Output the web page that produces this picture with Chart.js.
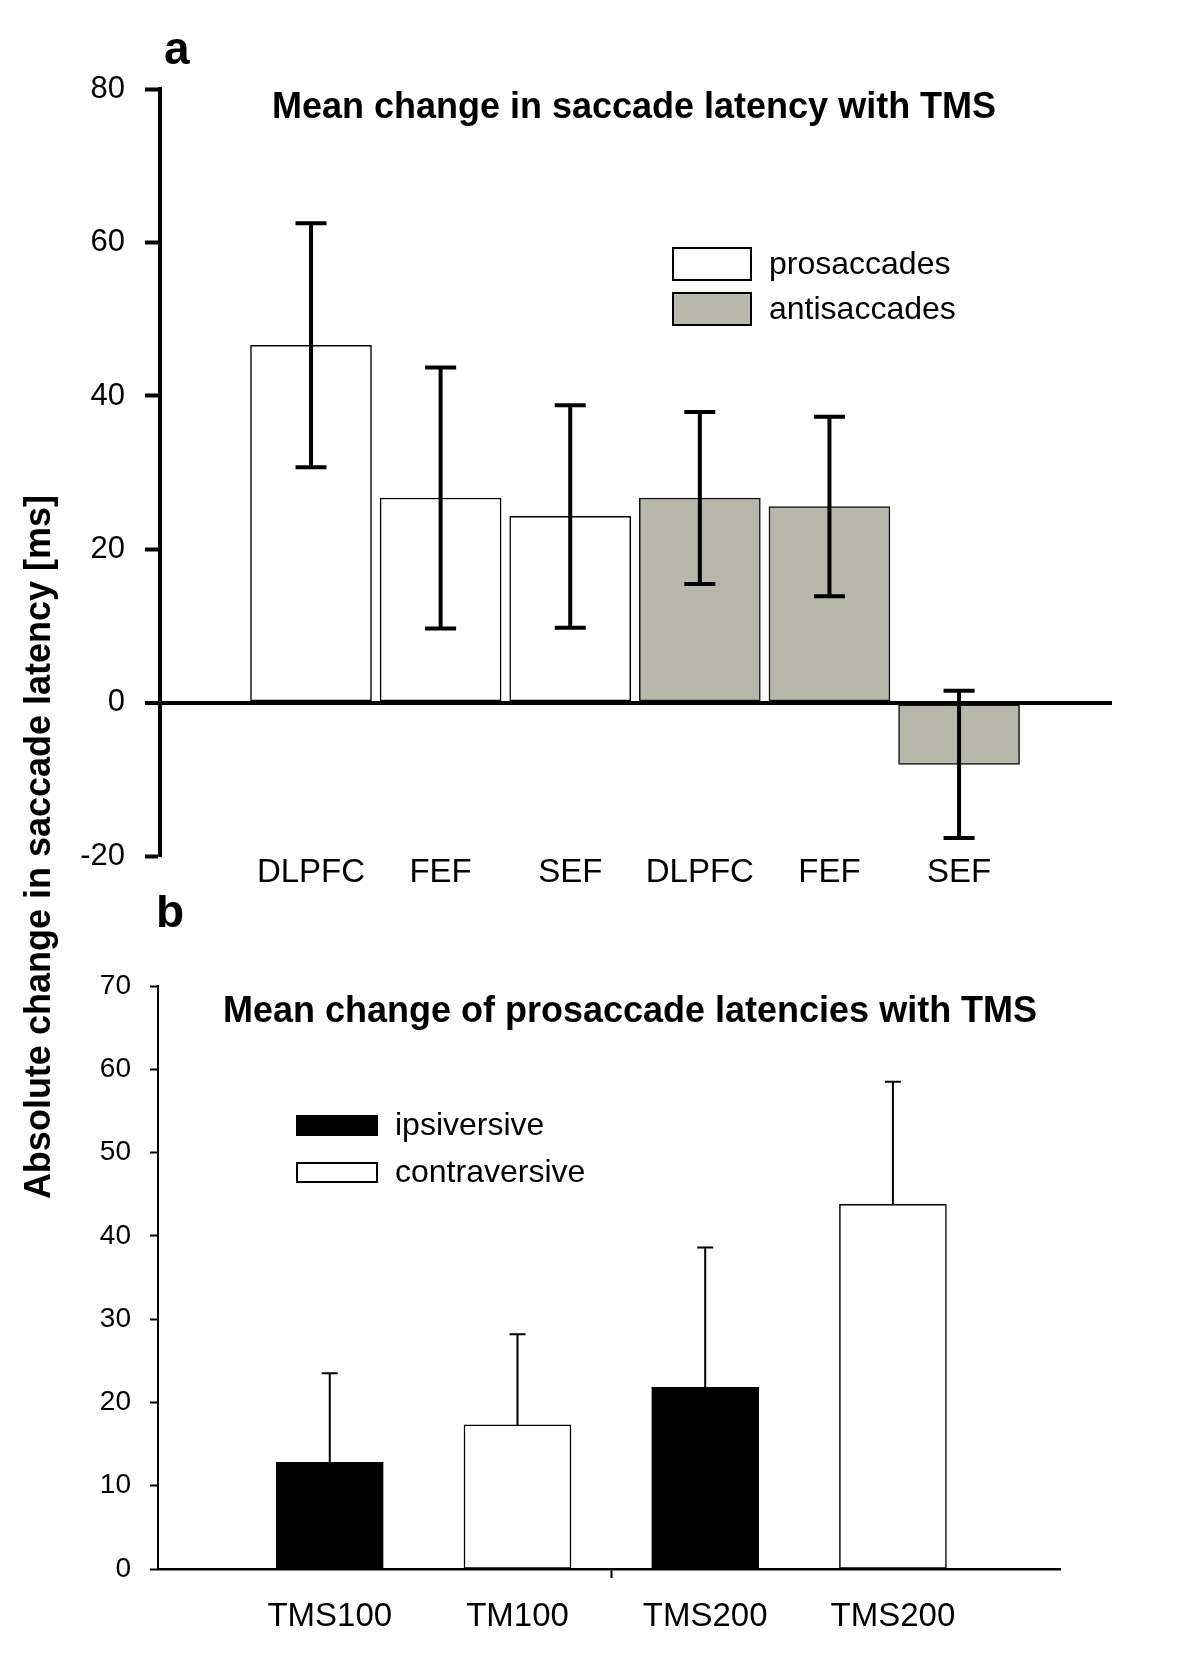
<!DOCTYPE html>
<html>
<head>
<meta charset="utf-8">
<script src="https://cdn.jsdelivr.net/npm/chart.js@4.4.0/dist/chart.umd.min.js"></script>
<style>
  body { margin: 0; background: #fff; width: 1200px; height: 1658px; position: relative; overflow: hidden; }
  #chartA { position: absolute; left: 0; top: 0; }
  #chartB { position: absolute; left: 0; top: 895px; }
  #ylab {
    position: absolute; left: -362px; top: 826px; width: 800px; height: 42px;
    line-height: 42px; text-align: center; transform: rotate(-90deg);
    font: bold 36px "Liberation Sans", Arial, sans-serif; color: #000; white-space: nowrap;
  }
</style>
</head>
<body>
<canvas id="chartA" width="1200" height="895"></canvas>
<canvas id="chartB" width="1200" height="763"></canvas>
<div id="ylab">Absolute change in saccade latency [ms]</div>
<script>
// panel a: saccade latency change per stimulation site
const regionsA = ['DLPFC', 'FEF', 'SEF'];
const proMeans = [46.6, 26.7, 24.3];
const proErr = [15.9, 17.0, 14.5];
const antiMeans = [26.7, 25.6, -8.0];
const antiErr = [11.2, 11.7, 9.6];
const yTicksA = [-20, 0, 20, 40, 60, 80];

// panel b: prosaccade latency change by TMS timing
const conditionsB = ['TMS100', 'TM100', 'TMS200', 'TMS200'];
const ipsiMeans = [12.8, 21.8];   // TMS100, TMS200
const ipsiErr = [10.7, 16.8];
const contraMeans = [17.3, 43.8]; // TM100, TMS200
const contraErr = [10.9, 14.7];
const yTicksB = [0, 10, 20, 30, 40, 50, 60, 70];

const FONT = '"Liberation Sans", Arial, sans-serif';
const barLabelsA = [...regionsA, ...regionsA];

const errorBarPlugin = {
  id: 'errorBars',
  afterDraw(chart, args, o) {
    const ctx = chart.ctx;
    const yScale = chart.scales.y;
    ctx.save();
    ctx.strokeStyle = '#000';
    ctx.lineWidth = o.lineWidth;
    chart.data.datasets.forEach((ds, di) => {
      const meta = chart.getDatasetMeta(di);
      meta.data.forEach((bar, j) => {
        const v = ds.data[j].y, e = ds.errors[j];
        const x = bar.x;
        const hi = yScale.getPixelForValue(v + e);
        const lo = yScale.getPixelForValue(o.upOnly ? v : v - e);
        const c = o.capWidth / 2;
        ctx.beginPath();
        ctx.moveTo(x, lo); ctx.lineTo(x, hi);
        ctx.moveTo(x - c, hi); ctx.lineTo(x + c, hi);
        if (!o.upOnly) { ctx.moveTo(x - c, lo); ctx.lineTo(x + c, lo); }
        ctx.stroke();
      });
    });
    ctx.restore();
  }
};

const decorPlugin = {
  id: 'decor',
  afterDraw(chart, args, o) {
    const ctx = chart.ctx;
    ctx.save();
    ctx.fillStyle = '#000';
    ctx.textBaseline = 'alphabetic';
    ctx.textAlign = 'left';
    ctx.font = 'bold 46px ' + FONT;
    ctx.fillText(o.letter, o.letterX, o.letterY);
    ctx.textAlign = 'center';
    ctx.font = 'bold 36px ' + FONT;
    ctx.fillText(o.title, o.titleX, o.titleY);
    // legend
    ctx.font = '32px ' + FONT;
    ctx.textAlign = 'left';
    ctx.textBaseline = 'middle';
    chart.data.datasets.forEach((ds, i) => {
      const y = o.legendY + i * o.legendGap;
      ctx.fillStyle = ds.backgroundColor;
      ctx.fillRect(o.legendX, y, o.boxW, o.boxH);
      ctx.lineWidth = 2;
      ctx.strokeStyle = '#000';
      ctx.strokeRect(o.legendX, y, o.boxW, o.boxH);
      ctx.fillStyle = '#000';
      ctx.fillText(ds.label, o.legendX + o.boxW + 18, y + o.boxH / 2 + 1);
    });
    ctx.restore();
  }
};

new Chart(document.getElementById('chartA'), {
  type: 'bar',
  data: {
    datasets: [
      {
        label: 'prosaccades',
        data: proMeans.map((v, i) => ({ x: i + 1, y: v })),
        errors: proErr,
        backgroundColor: '#ffffff',
        borderColor: '#000',
        borderWidth: 1.5,
        borderSkipped: false,
        grouped: false,
        barThickness: 121
      },
      {
        label: 'antisaccades',
        data: antiMeans.map((v, i) => ({ x: i + 4, y: v })),
        errors: antiErr,
        backgroundColor: '#b7b7ab',
        borderColor: '#111',
        borderWidth: 1.5,
        borderSkipped: false,
        grouped: false,
        barThickness: 121
      }
    ]
  },
  options: {
    responsive: false,
    animation: false,
    layout: { padding: { top: 89, right: 88, left: 0, bottom: 0 } },
    plugins: {
      legend: { display: false },
      tooltip: { enabled: false },
      errorBars: { lineWidth: 4, capWidth: 31, upOnly: false },
      decor: {
        letter: 'a', letterX: 164, letterY: 64,
        title: 'Mean change in saccade latency with TMS', titleX: 634, titleY: 118,
        legendX: 673, legendY: 248, legendGap: 45, boxW: 78, boxH: 32
      }
    },
    scales: {
      x: {
        type: 'linear',
        offset: false,
        min: -0.165,
        max: 7.18,
        afterBuildTicks: axis => { axis.ticks = barLabelsA.map((_, i) => ({ value: i + 1 })); },
        afterFit: s => { s.height = 37; },
        ticks: {
          autoSkip: false, maxRotation: 0, padding: -11, color: '#000',
          font: { family: FONT, size: 33 },
          callback: v => barLabelsA[v - 1]
        },
        grid: { display: false },
        border: { display: false }
      },
      y: {
        min: -20,
        max: 80,
        z: 1,
        afterBuildTicks: axis => { axis.ticks = yTicksA.map(v => ({ value: v })); },
        afterFit: s => { s.width = 160; },
        ticks: { padding: 20, color: '#000', font: { family: FONT, size: 31 } },
        grid: {
          color: c => c.tick && c.tick.value === 0 ? '#000' : 'rgba(0,0,0,0)',
          lineWidth: c => c.tick && c.tick.value === 0 ? 4 : 1,
          tickColor: '#000', tickLength: 15, tickWidth: 4
        },
        border: { color: '#000', width: 4 }
      }
    }
  },
  plugins: [errorBarPlugin, decorPlugin]
});

new Chart(document.getElementById('chartB'), {
  type: 'bar',
  data: {
    datasets: [
      {
        label: 'ipsiversive',
        data: ipsiMeans.map((v, i) => ({ x: i * 2 + 1, y: v })),
        errors: ipsiErr,
        backgroundColor: '#000000',
        borderColor: '#000',
        borderWidth: 1.5,
        borderSkipped: false,
        grouped: false,
        barThickness: 107
      },
      {
        label: 'contraversive',
        data: contraMeans.map((v, i) => ({ x: i * 2 + 2, y: v })),
        errors: contraErr,
        backgroundColor: '#ffffff',
        borderColor: '#000',
        borderWidth: 1.5,
        borderSkipped: false,
        grouped: false,
        barThickness: 107
      }
    ]
  },
  options: {
    responsive: false,
    animation: false,
    layout: { padding: { top: 91, right: 140, left: 0, bottom: 0 } },
    plugins: {
      legend: { display: false },
      tooltip: { enabled: false },
      errorBars: { lineWidth: 2, capWidth: 16, upOnly: true },
      decor: {
        letter: 'b', letterX: 156, letterY: 32,
        title: 'Mean change of prosaccade latencies with TMS', titleX: 630, titleY: 127,
        legendX: 297, legendY: 221, legendGap: 47, boxW: 80, boxH: 19
      }
    },
    scales: {
      x: {
        type: 'linear',
        offset: false,
        min: 0.085,
        max: 4.89,
        afterBuildTicks: axis => { axis.ticks = [1, 2, 2.5, 3, 4].map(v => ({ value: v })); },
        afterFit: s => { s.height = 89; },
        ticks: {
          autoSkip: false, maxRotation: 0, padding: 19, color: '#000',
          font: { family: FONT, size: 33 },
          callback: v => Number.isInteger(v) ? conditionsB[v - 1] : ''
        },
        grid: {
          offset: false, drawOnChartArea: false, tickLength: 9, tickWidth: 2,
          tickColor: c => c.tick && c.tick.value === 2.5 ? '#000' : 'rgba(0,0,0,0)'
        },
        border: { color: '#000', width: 2.5 }
      },
      y: {
        min: 0,
        max: 70,
        afterBuildTicks: axis => { axis.ticks = yTicksB.map(v => ({ value: v })); },
        afterFit: s => { s.width = 158; },
        ticks: { padding: 19, color: '#000', font: { family: FONT, size: 28 } },
        grid: { drawOnChartArea: false, tickColor: '#000', tickLength: 8, tickWidth: 2 },
        border: { color: '#000', width: 2 }
      }
    }
  },
  plugins: [errorBarPlugin, decorPlugin]
});
</script>
</body>
</html>
